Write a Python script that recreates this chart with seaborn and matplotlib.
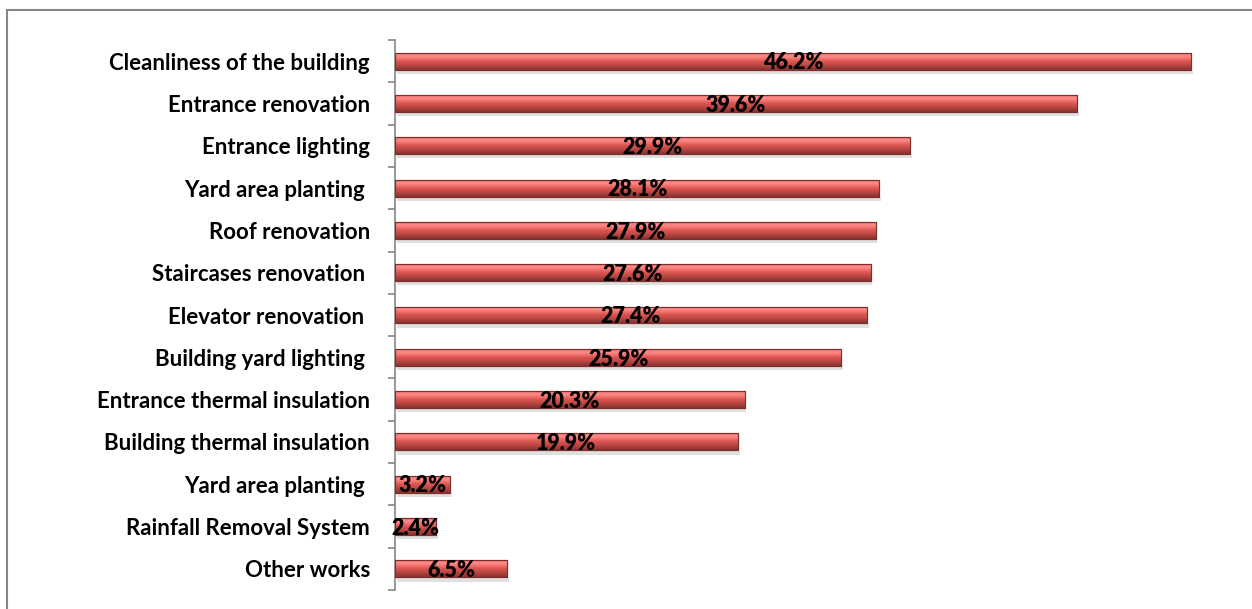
import numpy as np
import pandas as pd
import matplotlib
matplotlib.use("Agg")
import matplotlib.pyplot as plt
from matplotlib.colors import LinearSegmentedColormap
from matplotlib.patches import Rectangle
import seaborn as sns

categories = [
    "Cleanliness of the building",
    "Entrance renovation",
    "Entrance lighting",
    "Yard area planting ",
    "Roof renovation",
    "Staircases renovation ",
    "Elevator renovation ",
    "Building yard lighting ",
    "Entrance thermal insulation",
    "Building thermal insulation",
    "Yard area planting\u00a0",
    "Rainfall Removal System",
    "Other works",
]
values = [46.2, 39.6, 29.9, 28.1, 27.9, 27.6, 27.4, 25.9, 20.3, 19.9, 3.2, 2.4, 6.5]

df = pd.DataFrame({"item": categories, "share": values})

sns.set_theme(style="white")
plt.rcParams["font.family"] = ["Lato", "DejaVu Sans"]

fig = plt.figure(figsize=(12.52, 6.09), dpi=100)
ax = fig.add_axes([395 / 1252, 1 - 590 / 609, (1240 - 395) / 1252, (590 - 40) / 609])

sns.barplot(data=df, x="share", y="item", order=categories, orient="h",
            color="#c0504d", width=0.4, edgecolor="#8c3836", linewidth=0.8,
            ax=ax, zorder=3)

# vertical shading for a rounded, glossy look on each bar
shade = LinearSegmentedColormap.from_list(
    "bar_shade",
    ["#e86a68", "#ff8f8c", "#f2706d", "#d9544f", "#c44b48", "#a63e3b", "#8a3230"])
grad = np.linspace(0, 1, 64).reshape(-1, 1)
for p in ax.patches:
    x0, y0 = p.get_x(), p.get_y()
    w, h = p.get_width(), p.get_height()
    im = ax.imshow(grad, cmap=shade, aspect="auto",
                   extent=(x0, x0 + w, y0 + h, y0), zorder=3.5,
                   interpolation="bicubic")
    im.set_clip_path(p)
    # soft drop shadow under the bar
    ax.add_patch(Rectangle((x0 + 0.1, y0 + h), w, h * 0.25,
                           facecolor="#000000", alpha=0.12,
                           edgecolor="none", zorder=2))
    ax.add_patch(Rectangle((x0, y0), w, h, facecolor="none",
                           edgecolor="#7a2f2d", linewidth=0.8, zorder=4))
    ax.text(x0 + w / 2, y0 + h * 0.6, f"{w:.1f}%", ha="center",
            va="center", fontsize=15.5, fontweight="heavy", color="black",
            zorder=5)

ax.set_xlim(0, (1240 - 395) / ((1191 - 395) / 46.2))
ax.set_ylim(len(categories) - 0.5, -0.5)
ax.set_xlabel("")
ax.set_ylabel("")
ax.set_xticks([])
ax.set_yticks(range(len(categories)))
ax.set_yticklabels(categories, fontsize=16, fontweight="bold", color="black")
ax.set_yticks(np.arange(-0.5, len(categories)), minor=True)
ax.tick_params(axis="y", which="major", length=0, pad=18)
ax.tick_params(axis="y", which="minor", length=5, width=1.2,
               color="#868686", direction="out", left=True)

for side in ["top", "right", "bottom"]:
    ax.spines[side].set_visible(False)
ax.spines["left"].set_color("#868686")
ax.spines["left"].set_linewidth(1.2)

# chart-area frame
fig.patches.append(Rectangle((7 / 1252, -0.1), 1.2, 1 - 10 / 609 + 0.1,
                             transform=fig.transFigure, facecolor="none",
                             edgecolor="#868686", linewidth=1.5,
                             zorder=0))

fig.savefig("out.png", dpi=100)
